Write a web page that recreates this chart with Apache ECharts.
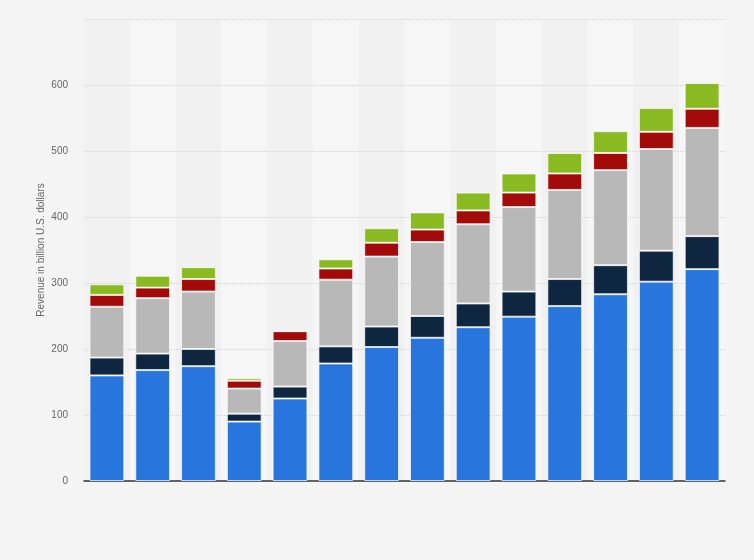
<!DOCTYPE html>
<html>
<head>
<meta charset="utf-8">
<title>Revenue chart</title>
<script src="https://cdn.jsdelivr.net/npm/echarts@6/dist/echarts.min.js"></script>
<style>
    html, body { margin: 0; padding: 0; background: #f4f4f4; }
    #main { width: 754px; height: 560px; }
</style>
</head>
<body>
<div id="main"></div>
<script>
// 数据部分 从图上读出来的估计值
var years = ['2017','2018','2019','2020','2021','2022','2023','2024','2025','2026','2027','2028','2029','2030'];
var seg1 = [160, 168, 174, 90, 125, 178, 203, 217, 233, 249, 265, 283, 302, 321];
var seg2 = [27, 25, 26, 12, 18, 26, 31, 33, 36, 38, 41, 44, 47, 50];
var seg3 = [77, 84, 87, 38, 69, 101, 106, 112, 120, 128, 135, 144, 154, 164];
var seg4 = [18, 16, 19, 12, 15, 17, 21, 19, 21, 22, 25, 26, 26, 29];
var seg5 = [16, 18, 18, 4, 0, 14, 22, 26, 27, 29, 31, 33, 36, 39];
var yTicks = [0, 100, 200, 300, 400, 500, 600, 700];

var names = ['Segment 1', 'Segment 2', 'Segment 3', 'Segment 4', 'Segment 5'];
var colors = ['#2876dd', '#0f2640', '#b8b8b8', '#a30a0a', '#8aba22'];
var values = [seg1, seg2, seg3, seg4, seg5];

var myChart = echarts.init(document.getElementById('main'));

var series = [];
for (var i = 0; i < values.length; i++) {
    series.push({
        name: names[i],
        type: 'bar',
        stack: 'total',
        barWidth: '76%',
        data: values[i],
        itemStyle: {
            color: colors[i],
            borderColor: 'rgba(255,255,255,0.7)',
            borderWidth: 1
        }
    });
}

var option = {
    backgroundColor: '#f4f4f4',
    animation: false,
    grid: { left: 84, right: 29, top: 19, bottom: 79 },
    xAxis: {
        type: 'category',
        data: years,
        z: 0,
        axisLine: { lineStyle: { color: '#333', width: 1.5 } },
        axisTick: { show: false },
        axisLabel: { show: false },
        splitArea: { show: true, areaStyle: { color: ['#f1f1f1', '#f6f6f6'] } }
    },
    yAxis: {
        type: 'value',
        z: 1,
        min: yTicks[0],
        max: yTicks[yTicks.length - 1],
        interval: 100,
        name: 'Revenue in billion U.S. dollars',
        nameLocation: 'middle',
        nameGap: 38,
        nameMoveOverlap: false,
        nameTextStyle: { color: '#666', fontSize: 10, fontFamily: 'Liberation Sans' },
        axisLine: { show: false },
        axisTick: { show: false },
        axisLabel: {
            color: '#666',
            fontSize: 10,
            fontFamily: 'Liberation Sans',
            margin: 16,
            formatter: function (v) { return v === 700 ? '' : v; }
        },
        splitLine: { showMinLine: false, lineStyle: { color: '#d2d2d2', type: 'dotted' } }
    },
    series: series
};
myChart.setOption(option);
</script>
</body>
</html>
